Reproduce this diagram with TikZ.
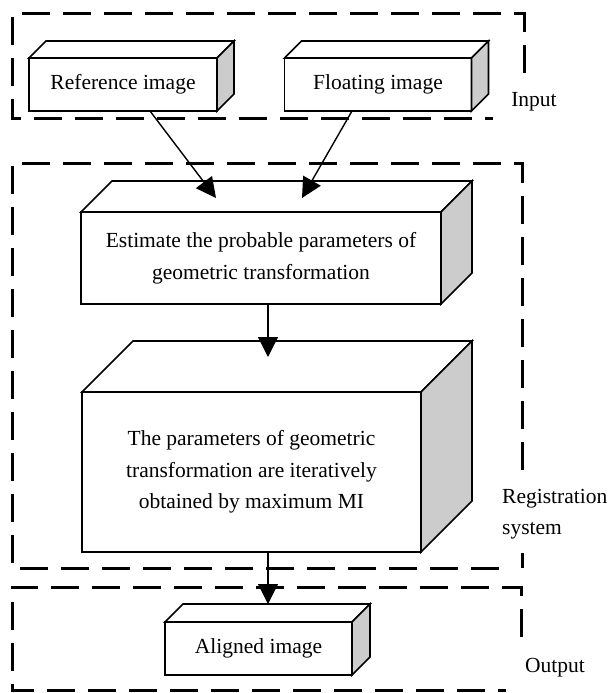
\documentclass[tikz,border=0pt]{standalone}
\usepackage{fontspec}
\setmainfont{Liberation Serif}
\usetikzlibrary{arrows.meta, calc}

% top and side face of a box drawn behind its front node
\newcommand{\cuboid}[2]{%
  \draw[face] (#1.north west) -- ++(#2,-#2) -- ($(#1.north east)+(#2,-#2)$) -- (#1.north east) -- cycle;
  \draw[face, fill=black!20] (#1.north east) -- ++(#2,-#2) -- ($(#1.south east)+(#2,-#2)$) -- (#1.south east) -- cycle;}

\begin{document}
\begin{tikzpicture}[x=1pt, y=-1pt, font=\fontsize{21.5}{31.5}\selectfont,
    front/.style={draw, line width=1.6pt, fill=white, inner sep=0pt, outer sep=0pt, align=center},
    face/.style={draw, line width=1.6pt, fill=white},
    frame/.style={line width=3pt, dash pattern=on 28pt off 13pt},
    lab/.style={inner sep=0pt, align=left},
    arr/.style={line width=1.4pt, -{Triangle[length=20pt,width=20pt]}}]
  \useasboundingbox (0,0) rectangle (608,693);

  % dashed frames
  \draw[frame] (524,73) -- (524,14) -- (12,14) -- (12,118) -- (493,118);
  \draw[frame] (522,470) -- (522,163) -- (12,163) -- (12,568) -- (508,568);
  \draw[frame] (522,553) -- (522,568);
  \draw[frame] (521,637) -- (521,587) -- (12,587) -- (12,690) -- (506,690);

  \node[front, minimum width=188pt, minimum height=53pt] (ref) at (123,84.5) {Reference image};
  \node[front, minimum width=187pt, minimum height=53pt] (flt) at (378,84.5) {Floating image};
  \node[front, minimum width=360pt, minimum height=92pt] (est) at (261,258)
    {Estimate the probable parameters of\\geometric transformation};
  \node[front, minimum width=339pt, minimum height=160pt] (big) at (251.5,472)
    {The parameters of geometric\\transformation are iteratively\\obtained by maximum MI};
  \node[front, minimum width=187pt, minimum height=53pt] (aln) at (258.5,648.5) {Aligned image};

  \cuboid{ref}{17}
  \cuboid{flt}{17}
  \cuboid{est}{31}
  \cuboid{big}{51}
  \cuboid{aln}{18}

  \node[lab] (inlab) at (534,102) {Input};
  \node[lab, anchor=west] (reglab) at (502,514) {Registration\\system};
  \node[lab] (outlab) at (555,668) {Output};

  \draw[arr] ([xshift=27pt]ref.south) -- ([xshift=-45pt,yshift=14pt]est.north);
  \draw[arr] ([xshift=-26pt]flt.south) -- ([xshift=41pt,yshift=14pt]est.north);
  \draw[arr] ([xshift=7pt]est.south) -- ([xshift=16.5pt,yshift=35pt]big.north);
  \draw[arr] ([xshift=16.5pt]big.south) -- ([xshift=9.5pt,yshift=18pt]aln.north);
\end{tikzpicture}
\end{document}
